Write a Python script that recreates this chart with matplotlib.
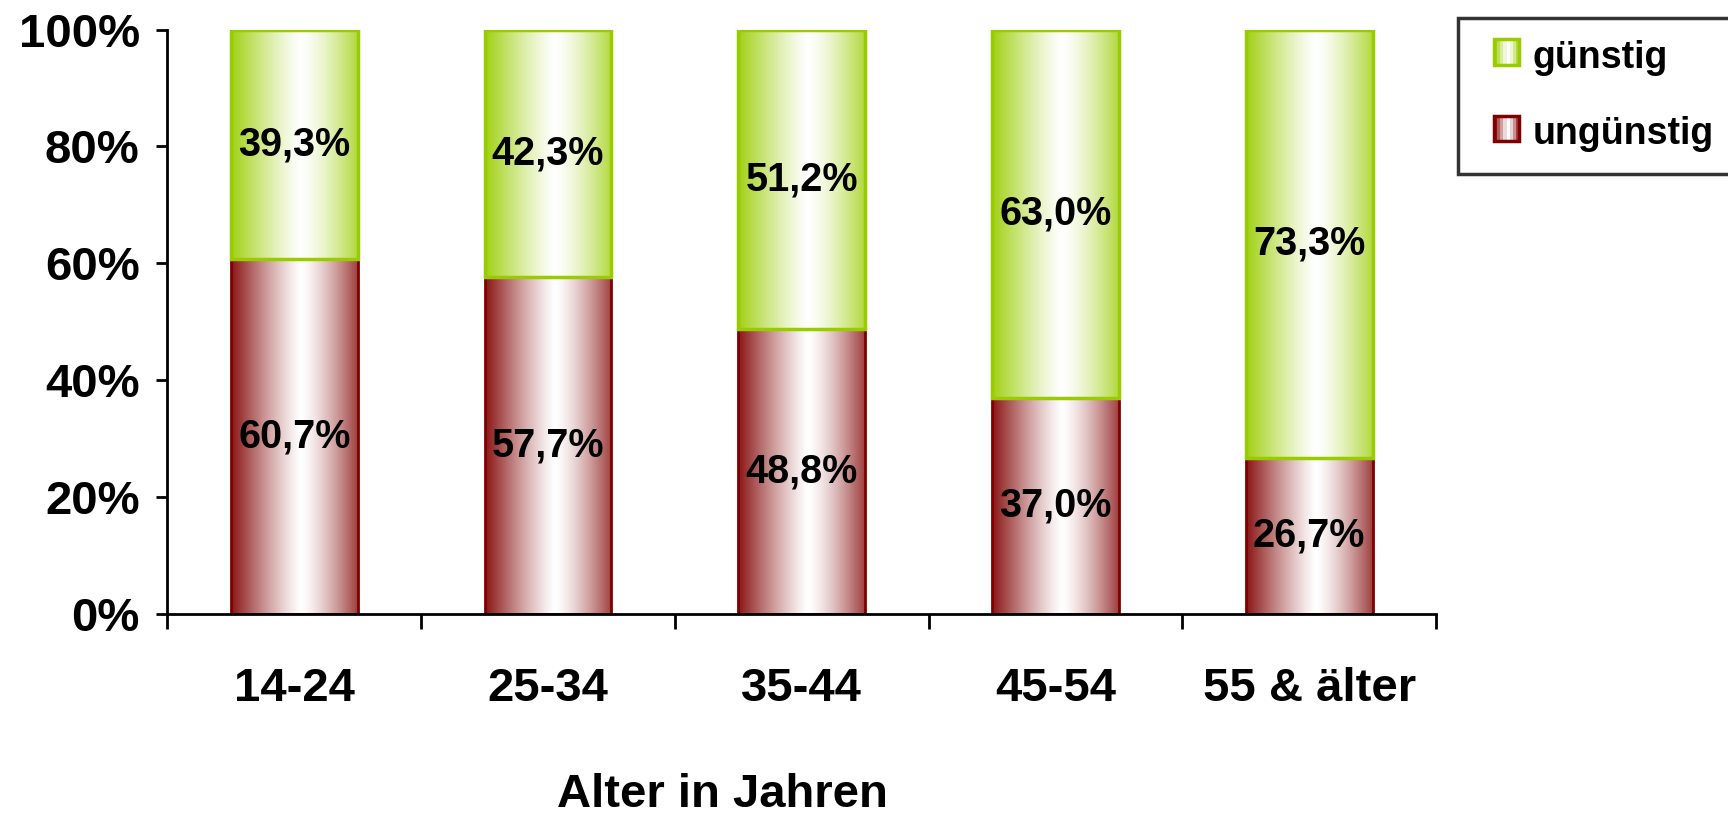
import numpy as np
import matplotlib
matplotlib.use("Agg")
import matplotlib.pyplot as plt
from matplotlib.patches import Rectangle
from matplotlib.legend_handler import HandlerPatch
from matplotlib.colors import to_rgb

plt.rcParams['font.family'] = ['Liberation Sans', 'DejaVu Sans']
plt.rcParams['font.weight'] = 'bold'

# data
categories = ["14-24", "25-34", "35-44", "45-54", "55 & älter"]
unguenstig = [60.7, 57.7, 48.8, 37.0, 26.7]
guenstig = [39.3, 42.3, 51.2, 63.0, 73.3]
series_names = ["günstig", "ungünstig"]
yticks = [0, 20, 40, 60, 80, 100]

green = "#99cc00"
maroon = "#800000"


def shade_profile(n=200):
    # horizontal "cylinder" shading: dark at edges, white a bit right of centre
    t = np.linspace(0, 1, n)
    w = np.where(t < 0.55, 0.92 * (1 - t / 0.55) ** 1.2, 0.75 * ((t - 0.55) / 0.45) ** 1.4)
    return w


def gradient_image(color, n=200):
    c = np.array(to_rgb(color))
    w = shade_profile(n)[:, None]
    row = 1 - w * (1 - c)
    return row[None, :, :]


fig = plt.figure(figsize=(17.28, 8.15), dpi=100)
ax = fig.add_axes([0.0969, 0.2469, 0.831 - 0.0969, 0.9636 - 0.2469])

x = np.arange(len(categories))
width = 0.5
bars_u = ax.bar(x, unguenstig, width, facecolor="none", edgecolor=maroon, linewidth=2, zorder=3)
bars_g = ax.bar(x, guenstig, width, bottom=unguenstig, facecolor="none", edgecolor=green,
                linewidth=2.5, zorder=3)

for bars, col in [(bars_u, maroon), (bars_g, green)]:
    img = gradient_image(col)
    for b in bars:
        x0, y0 = b.get_x(), b.get_y()
        ax.imshow(img, extent=[x0, x0 + b.get_width(), y0, y0 + b.get_height()],
                  aspect="auto", zorder=2, interpolation="bilinear")

for i in range(len(categories)):
    ax.text(x[i], unguenstig[i] / 2, f"{unguenstig[i]:.1f}%".replace(".", ","),
            ha="center", va="center", fontsize=28.5, fontweight="bold", zorder=4)
    ax.text(x[i], unguenstig[i] + guenstig[i] / 2, f"{guenstig[i]:.1f}%".replace(".", ","),
            ha="center", va="center", fontsize=28.5, fontweight="bold", zorder=4)

ax.set_xlim(-0.5, len(categories) - 0.5)
ax.set_ylim(0, 100)
ax.set_yticks(yticks)
ax.set_yticklabels([f"{v}%" for v in yticks])
ax.set_xticks(np.arange(-0.5, len(categories)))
ax.set_xticklabels([])
ax.set_xticks(x, minor=True)
ax.set_xticklabels(categories, minor=True)
ax.tick_params(axis="y", direction="out", length=8, width=2, pad=12, labelsize=34)
ax.tick_params(axis="x", which="major", direction="out", length=11, width=2)
ax.tick_params(axis="x", which="minor", length=0, pad=38, labelsize=34)
for lbl in ax.get_yticklabels() + ax.get_xticklabels(minor=True):
    lbl.set_fontweight("bold")
for s in ["top", "right"]:
    ax.spines[s].set_visible(False)
for s in ["left", "bottom"]:
    ax.spines[s].set_linewidth(2)
    ax.spines[s].set_zorder(5)

fig.text(0.418, 0.025, "Alter in Jahren", ha="center", va="center", fontsize=34, fontweight="bold")


class GradientHandler(HandlerPatch):
    def create_artists(self, legend, orig_handle, xdescent, ydescent, width, height, fontsize, trans):
        col = orig_handle.get_edgecolor()
        side = height
        x0 = -xdescent + width - side
        y0 = -ydescent + 0.1 * height
        n = 8
        prof = shade_profile(n)
        c = np.array(col[:3])
        arts = []
        for k in range(n):
            fc = 1 - prof[k] * (1 - c)
            arts.append(Rectangle((x0 + k * side / n, y0), side / n, side, facecolor=fc,
                                  edgecolor="none", transform=trans))
        arts.append(Rectangle((x0, y0), side, side, facecolor="none", edgecolor=col,
                              linewidth=2.5, transform=trans))
        return arts


handles = [Rectangle((0, 0), 1, 1, edgecolor=green), Rectangle((0, 0), 1, 1, edgecolor=maroon)]
leg = fig.legend(handles, series_names, loc="upper left", bbox_to_anchor=(0.8437, 0.978),
                 fontsize=27, frameon=True, fancybox=False, edgecolor="black",
                 handler_map={Rectangle: GradientHandler()}, handlelength=1.05, handleheight=0.65,
                 handletextpad=0.35, labelspacing=1.08, borderpad=0.58, borderaxespad=0)
leg.get_frame().set_linewidth(2.5)
for t in leg.get_texts():
    t.set_fontweight("bold")

fig.savefig("out.png", dpi=100)
